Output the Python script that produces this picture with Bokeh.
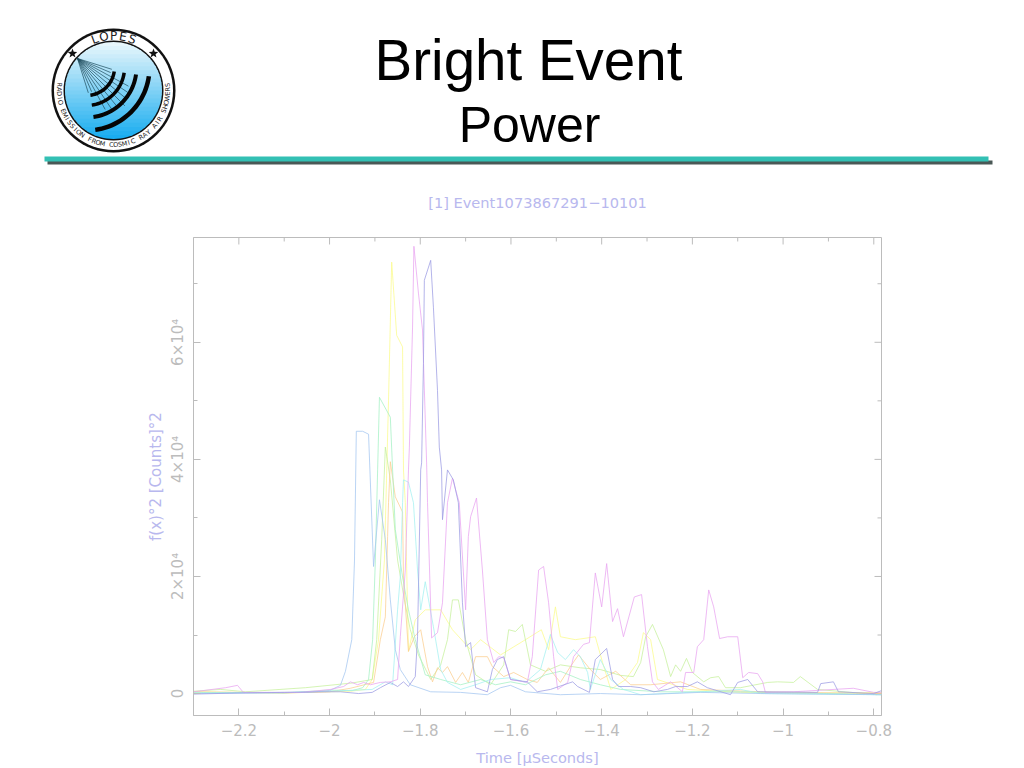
import math
from bokeh.plotting import figure
from bokeh.layouts import column
from bokeh.embed import file_html
from bokeh.resources import INLINE
from bokeh.core.properties import value
from bokeh.models import FixedTicker, Range1d

t_sky = [-2.30,-2.15,-2.05,-2.0,-1.976,-1.965,-1.951,-1.945,-1.941,-1.927,-1.914,-1.903,-1.890,-1.877,-1.866,-1.855,-1.844,-1.822,-1.777,-1.711,-1.652,-1.623,-1.601,-1.568,-1.491,-1.403,-1.314,-1.182,-1.050,-0.783]
y_sky = [0,100,200,500,1400,3800,9200,22800,44800,44800,44300,21700,33100,26300,16000,7500,4100,1500,300,200,-200,1000,1400,300,-200,0,-200,200,0,-200]

t_yellow = [-2.30,-2.1,-2.0,-1.954,-1.921,-1.906,-1.892,-1.879,-1.870,-1.863,-1.852,-1.839,-1.837,-1.833,-1.826,-1.811,-1.789,-1.755,-1.729,-1.689,-1.667,-1.623,-1.568,-1.533,-1.517,-1.502,-1.491,-1.458,-1.414,-1.398,-1.380,-1.347,-1.321,-1.308,-1.292,-1.277,-1.211,-1.094,-0.962,-0.783]
y_yellow = [300,100,300,400,700,2400,9200,22800,50100,73700,61200,59200,38200,32600,7200,12600,14300,14300,10900,7500,9200,6600,9200,10900,7500,14800,9700,9200,9700,5300,700,2400,5300,10400,9200,2400,700,200,0,200]

t_mint = [-2.30,-2.1,-2.0,-1.95,-1.927,-1.914,-1.905,-1.899,-1.894,-1.890,-1.866,-1.861,-1.855,-1.839,-1.826,-1.811,-1.789,-1.755,-1.711,-1.667,-1.634,-1.601,-1.568,-1.524,-1.491,-1.447,-1.403,-1.358,-1.270,-1.094,-0.783]
y_mint = [200,100,600,500,1000,2400,9200,22800,38200,50600,47200,38200,28000,19900,14300,9200,3200,2400,1500,2400,1500,2000,1500,3200,3800,2400,1500,700,300,300,-200]

t_orange = [-2.30,-2.1,-2.0,-1.954,-1.903,-1.888,-1.877,-1.872,-1.870,-1.866,-1.855,-1.839,-1.837,-1.826,-1.813,-1.799,-1.784,-1.773,-1.762,-1.751,-1.740,-1.722,-1.707,-1.694,-1.678,-1.652,-1.641,-1.616,-1.594,-1.564,-1.542,-1.517,-1.491,-1.469,-1.451,-1.425,-1.403,-1.369,-1.336,-1.292,-1.226,-1.182,-1.050,-0.783]
y_orange = [300,100,300,900,1900,9200,13100,26800,32600,39600,33600,31000,19900,7200,9700,10900,4600,2000,4400,3600,4600,1900,3600,1900,6300,6300,4600,2900,3600,2400,1900,4400,1900,4600,6600,4100,2400,3800,1500,1500,2000,700,300,0]

t_lime = [-2.30,-2.24,-2.185,-2.053,-1.95,-1.906,-1.896,-1.885,-1.877,-1.866,-1.850,-1.835,-1.822,-1.804,-1.777,-1.755,-1.740,-1.729,-1.716,-1.700,-1.678,-1.645,-1.616,-1.605,-1.590,-1.575,-1.557,-1.524,-1.491,-1.447,-1.403,-1.358,-1.330,-1.314,-1.303,-1.288,-1.264,-1.248,-1.237,-1.226,-1.213,-1.200,-1.175,-1.160,-1.142,-1.127,-1.094,-1.034,-1.012,-0.977,-0.962,-0.924,-0.792]
y_lime = [400,700,300,1000,1800,2400,9200,26300,42100,36500,22800,16000,10900,6600,2400,4900,9200,16000,16000,9200,3200,1500,4900,10900,10600,11800,4900,3800,4900,4400,4100,3100,2900,5300,9700,11800,7500,2900,4900,3800,6000,3600,2000,2700,2900,1000,1000,1900,2000,1900,2900,700,-200]

t_cyan = [-2.30,-2.1,-2.0,-1.906,-1.877,-1.861,-1.850,-1.844,-1.839,-1.837,-1.826,-1.815,-1.806,-1.799,-1.789,-1.771,-1.755,-1.740,-1.711,-1.678,-1.645,-1.601,-1.568,-1.535,-1.513,-1.497,-1.480,-1.462,-1.447,-1.431,-1.425,-1.403,-1.380,-1.352,-1.314,-1.182,-1.094,-1.05,-0.783]
y_cyan = [100,200,400,700,2000,1500,14300,19900,32600,36500,36100,32600,21100,14300,19100,11400,4100,1900,700,1500,2400,2700,1900,4100,10100,7000,5800,7500,6300,3600,700,5800,2400,700,-200,300,700,0,-200]

t_magenta = [-2.30,-2.229,-2.203,-2.190,-2.064,-1.998,-1.969,-1.954,-1.938,-1.925,-1.910,-1.888,-1.866,-1.850,-1.844,-1.833,-1.826,-1.824,-1.817,-1.814,-1.804,-1.795,-1.786,-1.784,-1.775,-1.762,-1.751,-1.740,-1.729,-1.722,-1.714,-1.700,-1.694,-1.689,-1.676,-1.663,-1.652,-1.638,-1.627,-1.616,-1.601,-1.564,-1.553,-1.539,-1.528,-1.517,-1.506,-1.497,-1.475,-1.462,-1.440,-1.427,-1.414,-1.400,-1.389,-1.376,-1.365,-1.352,-1.328,-1.312,-1.299,-1.288,-1.275,-1.248,-1.222,-1.215,-1.197,-1.189,-1.175,-1.164,-1.153,-1.140,-1.122,-1.100,-1.089,-1.076,-1.056,-1.045,-1.039,-0.977,-0.845,-0.800,-0.783]
y_magenta = [300,1000,1400,200,200,700,1200,2000,1500,1900,1500,1900,2000,2400,9700,21100,38200,42100,62600,76400,68400,62100,39400,32600,9500,10400,15500,32600,36800,34800,32600,14300,26800,30200,33400,21100,9200,5300,6300,6100,2400,1900,6300,21100,21700,15500,6300,700,1900,6300,8400,8700,20600,14800,22200,12300,14500,9700,16500,16900,8000,2000,700,2000,300,3600,3600,8000,9200,17700,14800,9400,9700,9700,2700,3600,3400,2000,200,300,900,200,200]

t_blue = [-2.30,-2.2,-2.1,-2.0,-1.976,-1.936,-1.906,-1.888,-1.866,-1.850,-1.837,-1.826,-1.811,-1.806,-1.799,-1.797,-1.793,-1.791,-1.777,-1.771,-1.762,-1.758,-1.753,-1.751,-1.740,-1.727,-1.716,-1.707,-1.700,-1.689,-1.678,-1.652,-1.641,-1.630,-1.616,-1.601,-1.564,-1.542,-1.513,-1.464,-1.453,-1.427,-1.414,-1.389,-1.376,-1.363,-1.336,-1.314,-1.285,-1.255,-1.237,-1.211,-1.189,-1.167,-1.116,-1.100,-1.078,-1.056,-0.924,-0.917,-0.889,-0.878,-0.800,-0.783]
y_blue = [-100,100,200,300,300,0,200,1000,1900,1200,2000,1200,2900,9700,38200,39400,56400,70600,74000,66000,51800,42100,38200,29700,38200,36500,32600,15500,8000,8700,1000,300,4100,5800,6300,2400,2000,300,700,2000,1200,200,5800,7700,2400,1200,1200,1000,300,700,1200,1200,2000,1000,-200,1900,2400,300,200,1700,2000,300,0,500]

series = [
    (t_yellow, y_yellow, "#fbfb8c"),
    (t_lime, y_lime, "#c6f09c"),
    (t_orange, y_orange, "#fbcf90"),
    (t_mint, y_mint, "#a4f0c4"),
    (t_cyan, y_cyan, "#a4f0f0"),
    (t_sky, y_sky, "#a4c6f0"),
    (t_magenta, y_magenta, "#e8a4f0"),
    (t_blue, y_blue, "#9c9ce4"),
]

x_major = [-2.2, -2.0, -1.8, -1.6, -1.4, -1.2, -1.0, -0.8]
x_minor = [-2.1, -1.9, -1.7, -1.5, -1.3, -1.1, -0.9]
x_labels = {-2.2: "\u22122.2", -2.0: "\u22122", -1.8: "\u22121.8", -1.6: "\u22121.6",
            -1.4: "\u22121.4", -1.2: "\u22121.2", -1.0: "\u22121", -0.8: "\u22120.8"}
y_major = [0, 20000, 40000, 60000]
y_minor = [10000, 30000, 50000, 70000]
y_labels = {0: "0", 20000: "2\u00d710\u2074", 40000: "4\u00d710\u2074", 60000: "6\u00d710\u2074"}
chart_title = "[1] Event1073867291\u221210101"

GREY = "#bcbcbc"
LAV = "#b8b8ee"
FONT = "DejaVu Sans"
X0, X1, Y0, Y1 = -2.3, -0.783, -3750, 77900
HEAD = 225

# ---------- header strip: slide title, logo, rule, chart title ----------
h = figure(width=1024, height=HEAD, output_backend="svg", toolbar_location=None,
           x_range=Range1d(0, 1024), y_range=Range1d(HEAD, 0), x_axis_type=None, y_axis_type=None,
           min_border=0, min_border_left=0, min_border_right=0, min_border_top=0, min_border_bottom=0,
           frame_align=False)
h.grid.visible = False
h.outline_line_color = None

def label(x, y, text, size, color="black", font="Liberation Sans", angle=0.0, baseline="alphabetic"):
    h.text([x], [y], text=[text], text_font=value(font), text_font_size=value(f"{size}px"),
           text_color=color, text_align="center", text_baseline=baseline, angle=angle)

def poly(pts, fill):
    h.patch([a for a, b in pts], [b for a, b in pts], fill_color=fill, line_color=None)

label(528, 60, "Bright Event", 56.5)
label(529, 124, "Power", 50)
label(537, 202, chart_title, 14.6, color=LAV, font=FONT, baseline="middle")

poly([(47, 160), (992, 160), (992, 164), (47, 164)], "#4a5856")
poly([(44, 156), (988, 156), (988, 161), (44, 161)], "#33c0b4")

cx, cy = 113, 90
def ring(r, n=72):
    return [(cx + r * math.cos(2 * math.pi * i / n), cy + r * math.sin(2 * math.pi * i / n)) for i in range(n)]

poly(ring(62), "#111111")
poly(ring(59.5), "white")
poly(ring(50), "#111111")
R = 48.5
N = 24
for i in range(N):
    y0 = -R + 2 * R * i / N
    y1 = min(R, -R + 2 * R * (i + 1) / N + 0.8)
    pts = []
    for k in range(9):
        yy = y0 + (y1 - y0) * k / 8
        pts.append((cx + math.sqrt(max(R * R - yy * yy, 0)), cy + yy))
    for k in range(8, -1, -1):
        yy = y0 + (y1 - y0) * k / 8
        pts.append((cx - math.sqrt(max(R * R - yy * yy, 0)), cy + yy))
    f = (i + 0.5) / N
    poly(pts, "#%02x%02x%02x" % (int(236 - 214 * f), int(248 - 76 * f), int(252 - 12 * f)))

ox, oy = 86, 67
for k in range(-5, 6):
    a = math.radians(45 + k * 5.5)
    L = 36 if abs(k) > 3 else 52 + (5 - abs(k)) * 3
    h.line([77, 77 + L * math.cos(a)], [58, 58 + L * math.sin(a)], line_color="#1c4a5c", line_width=0.7)

for rr, w in ((28, 3.5), (38, 3.5), (50, 4), (63, 4.5)):
    a0, a1 = math.radians(8), math.radians(82)
    outer = [(ox + (rr + w / 2) * math.cos(a0 + (a1 - a0) * i / 24), oy + (rr + w / 2) * math.sin(a0 + (a1 - a0) * i / 24)) for i in range(25)]
    inner = [(ox + (rr - w / 2) * math.cos(a0 + (a1 - a0) * i / 24), oy + (rr - w / 2) * math.sin(a0 + (a1 - a0) * i / 24)) for i in range(24, -1, -1)]
    poly(outer + inner, "#050505")

def star(sx, sy, r):
    pts = []
    for i in range(10):
        rad = r if i % 2 == 0 else r * 0.42
        a = -math.pi / 2 + i * math.pi / 5
        pts.append((sx + rad * math.cos(a), sy + rad * math.sin(a)))
    poly(pts, "#111111")
star(72, 53, 5)
star(153, 53, 5)

word = "LOPES"
for i, ch in enumerate(word):
    th = math.radians(-20 + i * 10)
    label(cx + 54.5 * math.sin(th), cy - 54.5 * math.cos(th), ch, 12, color="#222222",
          font=FONT, angle=-th, baseline="middle")

motto = "RADIO EMISSION FROM COSMIC RAY AIR SHOWERS"
n = len(motto)
for i, ch in enumerate(motto):
    if ch == " ":
        continue
    ph = math.radians(-96 + 192 * i / (n - 1))
    label(cx + 54.5 * math.sin(ph), cy + 54.5 * math.cos(ph), ch, 6.5, color="#222222",
          font=FONT, angle=ph, baseline="middle")

# ---------- chart ----------
p = figure(width=1024, height=768 - HEAD, output_backend="svg", toolbar_location=None,
           x_range=Range1d(X0, X1), y_range=Range1d(Y0, Y1), frame_align=False,
           min_border_left=193, min_border_right=143, min_border_top=237 - HEAD, min_border_bottom=52)
p.grid.visible = False
p.outline_line_color = GREY

for ax, maj, mnr, lab in ((p.xaxis[0], x_major, x_minor, x_labels), (p.yaxis[0], y_major, y_minor, y_labels)):
    ax.ticker = FixedTicker(ticks=maj, minor_ticks=mnr)
    ax.major_label_overrides = lab
    ax.axis_line_color = GREY
    ax.major_tick_line_color = GREY
    ax.minor_tick_line_color = GREY
    ax.major_tick_in = 7
    ax.major_tick_out = 0
    ax.minor_tick_in = 4
    ax.minor_tick_out = 0
    ax.major_label_text_color = GREY
    ax.major_label_text_font = FONT
    ax.major_label_text_font_size = "15px"
    ax.axis_label_text_color = LAV
    ax.axis_label_text_font = FONT
    ax.axis_label_text_font_style = "normal"
p.xaxis[0].axis_label_text_font_size = "14.6px"
p.yaxis[0].axis_label_text_font_size = "15px"
p.xaxis[0].axis_label = "Time [\u03bcSeconds]"
p.xaxis[0].major_label_standoff = 8
p.xaxis[0].axis_label_standoff = 10
p.yaxis[0].axis_label = "f(x)\u00b02 [Counts]\u00b02"
p.yaxis[0].major_label_orientation = "vertical"
p.yaxis[0].major_label_standoff = 6
p.yaxis[0].axis_label_standoff = 2

px_x = (X1 - X0) / 688.0
px_y = (Y1 - Y0) / 479.0
for vals, n_px in ((x_major, 7), (x_minor, 4)):
    p.segment(vals, [Y1] * len(vals), vals, [Y1 - n_px * px_y] * len(vals), line_color=GREY, line_width=1)
for vals, n_px in ((y_major, 7), (y_minor, 4)):
    p.segment([X1] * len(vals), vals, [X1 - n_px * px_x] * len(vals), vals, line_color=GREY, line_width=1)

for tt, yy, col in series:
    p.line(tt, yy, line_color=col, line_width=0.9, line_alpha=0.85)

page = column(h, p, spacing=0)
open("out.html", "w").write(file_html(page, INLINE))
